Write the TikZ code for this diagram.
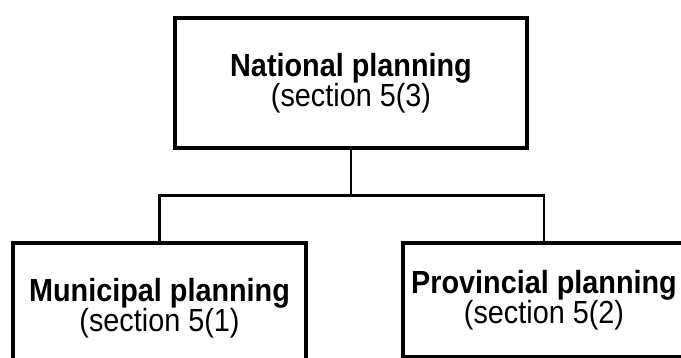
\documentclass[tikz,border=0pt]{standalone}
\usepackage{fontspec}
\setmainfont{Liberation Sans}[FakeStretch=0.9]
\usepackage{tikz}
\usetikzlibrary{positioning}

\begin{document}
\begin{tikzpicture}[x=1pt,y=-1pt,
   plan/.style={draw,line width=3.8pt,inner sep=0pt,align=center,
      font=\fontsize{32}{30}\selectfont},
   link/.style={line width=2.3pt}]
   \useasboundingbox (0,0) rectangle (681,358);
   \clip (0,0) rectangle (681,358);
   \node (nat) [plan,minimum width=352pt,minimum height=130pt] at (351,83)
      {\textbf{National planning}\\(section 5(3)};
   \node (mun) [plan,minimum width=293pt,minimum height=130pt] at (159.5,308)
      {\textbf{Municipal planning}\\(section 5(1)};
   \node (pro) [plan,minimum width=282pt,minimum height=114pt] at (544,300)
      {\textbf{Provincial planning}\\(section 5(2)};
   \coordinate (split) at (nat.south |- 0,195.5);
   \draw [link] (nat.south) -- (split);
   \draw [link] (mun.north) |- (split) -| (pro.north);
\end{tikzpicture}
\end{document}
